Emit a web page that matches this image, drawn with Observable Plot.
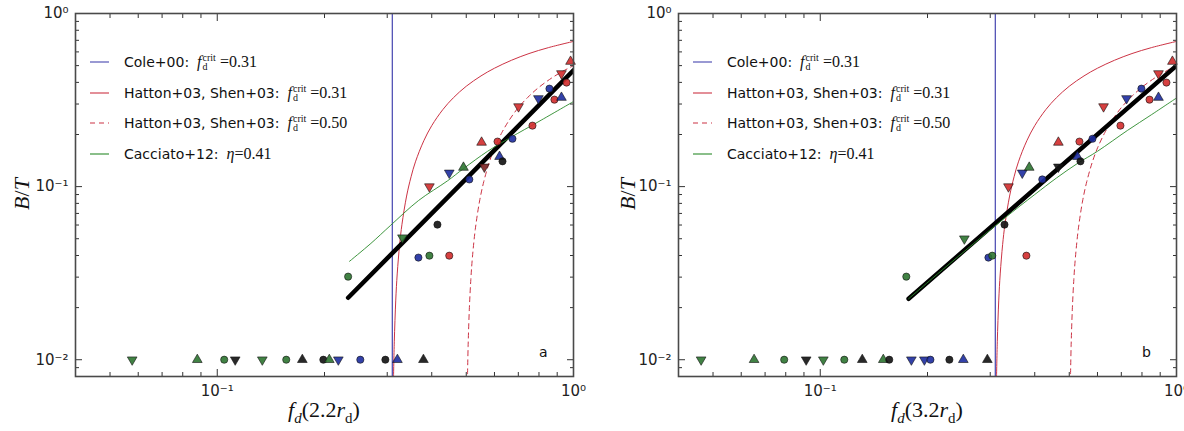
<!DOCTYPE html>
<html>
<head>
<meta charset="utf-8">
<script src="https://cdn.jsdelivr.net/npm/d3@7"></script>
<script src="https://cdn.jsdelivr.net/npm/@observablehq/plot@0.6"></script>
<style>
html,body{margin:0;padding:0;background:#fff;}
#wrap{position:relative;width:1184px;height:431px;overflow:hidden;font-family:"DejaVu Sans",sans-serif;color:#111;}
.pnl{position:absolute;top:0;}
.leg{position:absolute;height:20px;display:flex;align-items:center;white-space:nowrap;font-size:14px;}
.leg svg{margin-right:15px;}
.m{font-family:"Liberation Serif",serif;font-size:16px;margin-left:8px;}
.ss{display:inline-flex;flex-direction:column;font-size:10px;line-height:9px;vertical-align:6px;margin-left:1px;margin-right:4px;}
.lab{position:absolute;font-family:"Liberation Serif",serif;font-size:22px;white-space:nowrap;}
.pl{position:absolute;font-size:14px;}
</style>
</head>
<body>
<div id="wrap"></div>
<script>
// ---------- axis ticks ----------
const xMajorTicks = [0.1, 1];
const xTickLabels = ["10⁻¹", "10⁰"];
const xMinorTicks = [0.05,0.06,0.07,0.08,0.09,0.2,0.3,0.4,0.5,0.6,0.7,0.8,0.9];
const yMajorTicks = [0.01, 0.1, 1];
const yTickLabels = ["10⁻²", "10⁻¹", "10⁰"];
const yMinorTicks = [0.009,0.02,0.03,0.04,0.05,0.06,0.07,0.08,0.09,0.2,0.3,0.4,0.5,0.6,0.7,0.8,0.9];

// ---------- model curves ----------
const coleCrit = [0.31];
const hattonF31  = [0.3125,0.314,0.317,0.32,0.325,0.33,0.34,0.35,0.36,0.38,0.40,0.43,0.46,0.50,0.55,0.60,0.67,0.75,0.85,1.0];
const hattonBT31 = [0.008,0.0127,0.0221,0.0313,0.0462,0.0606,0.0882,0.114,0.139,0.184,0.225,0.279,0.326,0.38,0.436,0.483,0.537,0.587,0.635,0.69];
const hattonF50  = [0.5042,0.506,0.51,0.515,0.52,0.53,0.545,0.56,0.58,0.60,0.63,0.66,0.70,0.75,0.80,0.87,0.93,1.0];
const hattonBT50 = [0.0083,0.0119,0.0196,0.0291,0.0385,0.0566,0.0826,0.107,0.138,0.167,0.206,0.242,0.286,0.333,0.375,0.425,0.462,0.5];
const cacciatoF_a  = [0.235,0.27,0.306,0.367,0.443,0.491,0.574,0.665,0.8,1.0];
const cacciatoBT_a = [0.037,0.047,0.0595,0.083,0.108,0.127,0.16,0.192,0.238,0.31];
const cacciatoF_b  = [0.177,0.22,0.27,0.33,0.4,0.46,0.527,0.6,0.728,0.85,1.0];
const cacciatoBT_b = [0.0225,0.033,0.047,0.066,0.09,0.112,0.136,0.16,0.211,0.26,0.325];
const fitF_a = [0.233, 1.0];
const fitBT_a = [0.0228, 0.469];
const fitF_b = [0.177, 1.0];
const fitBT_b = [0.0225, 0.50];

// ---------- galaxies, panel a (2.2 r_d) ----------
const ptsF_a = [0.394,0.448,0.491,0.510,0.562,0.552,0.612,0.674,0.620,0.632,0.701,0.767,0.797,0.856,0.884,0.925,0.925,0.956,0.981,
  0.415,0.331,0.367,0.394,0.448,0.233,
  0.0577,0.0879,0.1046,0.1123,0.1338,0.1562,0.1733,0.1985,0.2063,0.2187,0.2521,0.2964,0.3204,0.3791];
const ptsBT_a = [0.100,0.120,0.129,0.110,0.130,0.180,0.182,0.189,0.149,0.140,0.290,0.225,0.323,0.368,0.318,0.327,0.450,0.399,0.528,
  0.0603,0.0507,0.0389,0.0399,0.0399,0.0302,
  0.01,0.01,0.01,0.01,0.01,0.01,0.01,0.01,0.01,0.01,0.01,0.01,0.01,0.01];
const ptsGroup_a = ["r","b","g","b","dr","r","r","b","b","k","r","r","b","b","r","b","r","r","r",
  "k","g","b","g","r","g",
  "g","g","g","k","g","g","k","k","g","b","b","k","b","k"];
const ptsShape_a = ["v","v","^","o","v","^","o","o","^","o","v","o","v","o","o","^","v","o","^",
  "o","v","o","o","o","o",
  "v","^","o","v","v","o","^","o","^","v","o","o","^","^"];

// ---------- galaxies, panel b (3.2 r_d) ----------
const ptsF_b = [0.3375,0.369,0.386,0.420,0.466,0.466,0.534,0.581,0.527,0.5375,0.624,0.696,0.724,0.797,0.840,0.890,0.890,0.937,0.974,
  0.329,0.2538,0.2965,0.304,0.379,0.1744,
  0.0463,0.0652,0.0792,0.0913,0.102,0.1168,0.1312,0.1503,0.1562,0.1802,0.196,0.2038,0.2304,0.2521,0.2945];
const ptsBT_b = [0.100,0.120,0.129,0.110,0.130,0.180,0.182,0.189,0.149,0.140,0.290,0.225,0.323,0.368,0.318,0.327,0.450,0.399,0.528,
  0.0603,0.050,0.0389,0.0399,0.0399,0.0302,
  0.01,0.01,0.01,0.01,0.01,0.01,0.01,0.01,0.01,0.01,0.01,0.01,0.01,0.01,0.01];
const ptsGroup_b = ["r","b","g","b","k","r","r","b","b","k","r","r","b","b","r","b","r","r","r",
  "k","g","b","g","r","g",
  "g","g","g","k","g","g","k","g","k","b","b","b","k","b","k"];
const ptsShape_b = ["v","v","^","o","v","^","o","o","^","o","v","o","v","o","o","^","v","o","^",
  "o","v","o","o","o","o",
  "v","^","o","v","v","o","^","^","o","v","v","o","o","^","^"];

// ---------- texts ----------
const legendNames = ["Cole+00:", "Hatton+03, Shen+03:", "Hatton+03, Shen+03:", "Cacciato+12:"];
const legendValues = ["0.31", "0.31", "0.50", "0.41"];
const panelLetters = ["a", "b"];
const radiusLabels = ["2.2", "3.2"];

// ---------- styling ----------
const groupDomain = ["r","b","g","k","dr"];
const groupColors = ["#d22b2b","#1d2ca0","#2c7430","#111111","#7c2020"];
const triangleDown = {
  draw(ctx, size) {
    const y = -Math.sqrt(size / (Math.sqrt(3) * 3));
    ctx.moveTo(0, -y * 2);
    ctx.lineTo(-Math.sqrt(3) * y, y);
    ctx.lineTo(Math.sqrt(3) * y, y);
    ctx.closePath();
  }
};
const cBlue = "#4545b0", cRed = "#cc3344", cGreen = "#2a8a2a";

const toRows = (xs, ys) => xs.map((x, i) => ({f: x, bt: ys[i]}));

function makePanel(cfg) {
  const pts = cfg.f.map((f, i) => ({f, bt: cfg.bt[i], g: cfg.group[i], s: cfg.shape[i]}));
  const axCol = "#333";
  return Plot.plot({
    width: 592, height: 431,
    marginLeft: cfg.ml, marginRight: cfg.mr, marginTop: 13, marginBottom: 55,
    x: {type: "log", domain: [0.04, 1]},
    y: {type: "log", domain: [0.008, 1]},
    color: {domain: groupDomain, range: groupColors},
    symbol: {domain: ["o", "^", "v"], range: ["circle", "triangle", triangleDown]},
    style: {fontFamily: "DejaVu Sans, sans-serif", fontSize: "15px", color: "#222", background: "transparent", overflow: "visible"},
    marks: [
      Plot.ruleX(coleCrit, {stroke: cBlue, strokeWidth: 1.2}),
      Plot.line(toRows(hattonF31, hattonBT31), {x: "f", y: "bt", stroke: cRed, strokeWidth: 1, curve: "catmull-rom", clip: true}),
      Plot.line(toRows(hattonF50, hattonBT50), {x: "f", y: "bt", stroke: cRed, strokeWidth: 1, strokeDasharray: "5,4", curve: "catmull-rom", clip: true}),
      Plot.line(toRows(cfg.fitF, cfg.fitBT), {x: "f", y: "bt", stroke: "#000", strokeWidth: 4.5, clip: true}),
      Plot.line(toRows(cfg.cacF, cfg.cacBT), {x: "f", y: "bt", stroke: cGreen, strokeWidth: 0.9, curve: "catmull-rom", clip: true}),
      Plot.dot(pts, {x: "f", y: "bt", fill: "g", symbol: "s", r: 3.6, stroke: "#111", strokeWidth: 0.6, fillOpacity: 0.9}),
      // axes (ticks pointing inward, mirrored on top/right)
      Plot.axisX({ticks: xMajorTicks, tickSize: -7, tickPadding: 16, stroke: axCol, label: null,
        tickFormat: d => xTickLabels[xMajorTicks.indexOf(d)], fontSize: 15, fill: "#222"}),
      Plot.axisX({ticks: xMinorTicks, tickSize: -4, stroke: axCol, label: null, tickFormat: () => ""}),
      Plot.axisX({anchor: "top", ticks: xMajorTicks, tickSize: -7, stroke: axCol, label: null, tickFormat: () => ""}),
      Plot.axisX({anchor: "top", ticks: xMinorTicks, tickSize: -4, stroke: axCol, label: null, tickFormat: () => ""}),
      Plot.axisY({ticks: yMajorTicks, tickSize: -7, tickPadding: 14, stroke: axCol, label: null,
        tickFormat: d => yTickLabels[yMajorTicks.indexOf(d)], fontSize: 15, fill: "#222"}),
      Plot.axisY({ticks: yMinorTicks, tickSize: -4, stroke: axCol, label: null, tickFormat: () => ""}),
      Plot.axisY({anchor: "right", ticks: yMajorTicks, tickSize: -7, stroke: axCol, label: null, tickFormat: () => ""}),
      Plot.axisY({anchor: "right", ticks: yMinorTicks, tickSize: -4, stroke: axCol, label: null, tickFormat: () => ""}),
      Plot.frame({stroke: "#4a4a4a", strokeWidth: 1.6})
    ]
  });
}

const wrap = document.getElementById("wrap");
const panels = [
  {left: 0, ml: 75, mr: 19, f: ptsF_a, bt: ptsBT_a, group: ptsGroup_a, shape: ptsShape_a,
   fitF: fitF_a, fitBT: fitBT_a, cacF: cacciatoF_a, cacBT: cacciatoBT_a},
  {left: 592, ml: 86, mr: 8, f: ptsF_b, bt: ptsBT_b, group: ptsGroup_b, shape: ptsShape_b,
   fitF: fitF_b, fitBT: fitBT_b, cacF: cacciatoF_b, cacBT: cacciatoBT_b}
];

panels.forEach((cfg, pi) => {
  const div = document.createElement("div");
  div.className = "pnl";
  div.style.left = cfg.left + "px";
  div.appendChild(makePanel(cfg));
  wrap.appendChild(div);

  const fl = cfg.left + cfg.ml;           // frame left
  const fr = cfg.left + 592 - cfg.mr;     // frame right
  // legend
  const legStyles = [
    {stroke: cBlue, dash: null}, {stroke: cRed, dash: null}, {stroke: cRed, dash: "5,4"}, {stroke: cGreen, dash: null}
  ];
  const rowY = [62, 93, 123, 154];
  legendNames.forEach((name, i) => {
    const row = document.createElement("div");
    row.className = "leg";
    row.style.left = (fl + 15) + "px";
    row.style.top = (rowY[i] - 10) + "px";
    const st = legStyles[i];
    const math = i < 3
      ? `<span class="m"><i>f</i><span class="ss"><span>crit</span><span>d</span></span>=${legendValues[i]}</span>`
      : `<span class="m"><i>η</i>=${legendValues[i]}</span>`;
    row.innerHTML = `<svg width="19" height="4"><line x1="0" x2="19" y1="2" y2="2" stroke="${st.stroke}" stroke-width="1.1" ${st.dash ? `stroke-dasharray="${st.dash}"` : ""}/></svg><span>${name}</span>${math}`;
    wrap.appendChild(row);
  });
  // panel letter
  const pl = document.createElement("div");
  pl.className = "pl";
  pl.textContent = panelLetters[pi];
  pl.style.left = (fr - 34) + "px";
  pl.style.top = "344px";
  wrap.appendChild(pl);
  // y label
  const yl = document.createElement("div");
  yl.className = "lab";
  yl.innerHTML = "<i>B</i>/<i>T</i>";
  yl.style.left = (cfg.left + (pi === 0 ? 22 : 36)) + "px";
  yl.style.top = "194px";
  yl.style.transform = "translate(-50%,-50%) rotate(-90deg)";
  wrap.appendChild(yl);
  // x label
  const xl = document.createElement("div");
  xl.className = "lab";
  xl.innerHTML = `<i>f</i><sub style="font-size:15px"><i>d</i></sub>(${radiusLabels[pi]}<i>r</i><sub style="font-size:15px">d</sub>)`;
  xl.style.left = ((fl + fr) / 2) + "px";
  xl.style.top = "412px";
  xl.style.transform = "translate(-50%,-50%)";
  wrap.appendChild(xl);
});
</script>
</body>
</html>
